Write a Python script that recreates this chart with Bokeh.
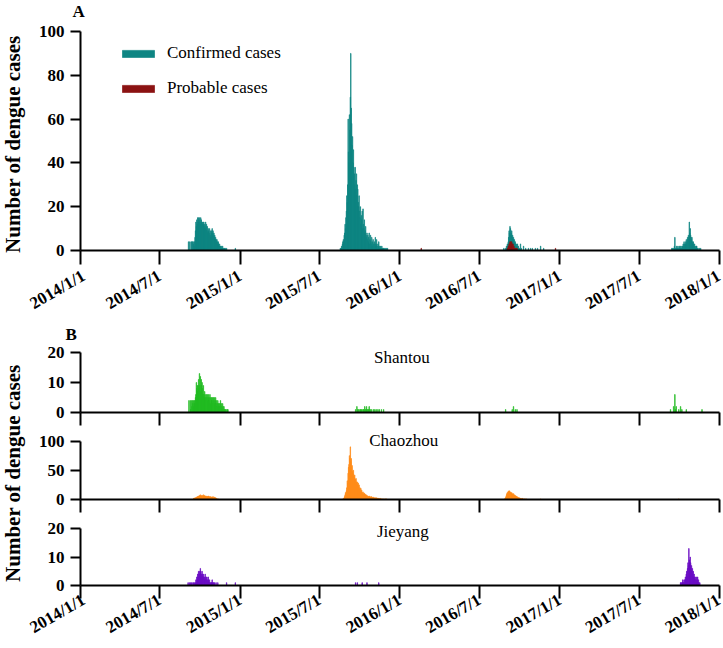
import math
import pandas as pd
from bokeh.plotting import figure
from bokeh.layouts import column, row
from bokeh.models import Range1d, FixedTicker, Label, Legend, LegendItem
from bokeh.embed import file_html
from bokeh.resources import INLINE

# ------------------------------------------------------------------ data
tick_labels = ["2014/1/1", "2014/7/1", "2015/1/1", "2015/7/1", "2016/1/1",
               "2016/7/1", "2017/1/1", "2017/7/1", "2018/1/1"]

# Panel A - confirmed cases (daily counts, consecutive days from start date)
confirmed_2014_start = "2014-09-05"
confirmed_2014 = [4, 0, 0, 4, 0, 0, 4, 0, 4, 4, 0, 3, 4, 2, 4, 6, 9,
                  13, 11, 14, 12, 15, 13, 15, 14, 15, 13, 12, 15, 14, 13, 13, 12, 13,
                  12, 13, 11, 12, 10, 13, 11, 12, 9, 11, 8, 10, 9, 8, 10, 7, 9, 6, 8,
                  9, 10, 8, 9, 7, 8, 6, 7, 5, 6, 5, 4, 5, 4, 3, 4, 3, 2,
                  3, 2, 2, 1, 2, 1, 1, 2, 1, 0, 1, 1, 0, 1, 0, 0, 1]
confirmed_2015_start = "2015-08-18"
confirmed_2015 = [1, 0, 1, 2, 1, 3, 4,
                  5, 4, 7, 8, 12, 10, 15, 18,
                  25, 22, 30, 60, 45, 40, 62, 55, 70,
                  90, 65, 58, 48, 52, 40, 46, 38,
                  35, 30, 38, 28, 32, 35, 25, 30,
                  28, 22, 20, 25, 18, 15, 20, 12, 16, 14, 18, 10,
                  19, 12, 10, 14, 8, 9, 11, 7, 6, 8,
                  5, 7, 4, 6, 8, 3, 5, 7, 4, 3, 6, 2, 4, 5, 3,
                  2, 4, 3, 6, 2, 3, 5, 2, 1, 3, 2, 4, 1, 2, 1,
                  2, 1, 1, 2, 1, 0, 1, 1, 0, 1, 0, 1, 0, 0, 1, 0, 1]
confirmed_2016_start = "2016-08-26"
confirmed_2016 = [1, 0, 0, 0, 1, 0, 2, 1, 3, 2,
                  4, 6, 9, 8, 11, 10, 7, 8, 9, 6,
                  7, 5, 6, 4, 5, 3, 4, 3, 2, 3,
                  2, 3, 1, 2, 1, 0, 1, 0, 3, 0, 1, 0, 0]
confirmed_2017_start = "2017-09-14"
confirmed_2017 = [1, 0, 1, 0, 1, 0, 2, 6, 1, 0, 1,
                  2, 1, 1, 2, 1, 0, 2, 1, 1, 2, 1, 1, 2,
                  1, 2, 3, 2, 4, 3, 2, 3, 4, 5, 3, 4, 6, 5, 7,
                  6, 13, 8, 10, 7, 6, 5, 6, 4, 3, 4, 3,
                  2, 3, 1, 2, 1, 2, 2, 1, 0, 1, 0, 0, 1, 0, 0, 1]
confirmed_single_dates = ["2014-12-21", "2016-10-10", "2016-10-15", "2016-10-21",
                          "2016-10-26", "2016-10-30", "2016-11-06", "2016-11-11",
                          "2016-11-18", "2016-11-25"]
confirmed_single_values = [1, 2, 1, 1, 1, 1, 1, 1, 2, 1]

# Panel A - probable cases
probable_2016_start = "2016-09-03"
probable_2016 = [1, 0, 2, 1, 3, 2, 4, 3, 4, 2, 4, 3, 2, 3, 1, 2, 1, 0, 1, 0, 1, 0, 1]
probable_single_dates = ["2016-02-19", "2016-12-22"]
probable_single_values = [1, 1]

# Panel B - Shantou
shantou_2014_start = "2014-09-06"
shantou_2014 = [4, 0, 0, 4, 1, 0, 4, 2, 4, 3, 4, 2, 4, 3, 4, 5, 6,
                10, 8, 9, 7, 9, 11, 8, 13, 9, 12, 7, 11, 9, 10, 8, 6, 9,
                6, 5, 7, 6, 5, 4, 6, 5, 6, 4, 5, 6, 4, 5, 6, 3, 5, 4, 5,
                4, 5, 3, 5, 4, 5, 3, 4, 5, 3, 4, 2, 3, 4, 3, 2, 3, 2, 3, 4,
                2, 3, 2, 1, 3, 2, 1, 2, 1, 1, 0, 1, 1, 0, 0, 1, 1]
shantou_2015_start = "2015-09-22"
shantou_2015 = [1, 0, 0, 2, 0, 1, 0, 1, 0, 0, 1,
                1, 0, 1, 0, 1, 0, 0, 1, 1, 0, 2, 1,
                0, 1, 2, 1, 0, 1, 1, 0, 2, 1, 0, 1,
                0, 0, 1, 0, 0, 0, 1, 0, 0, 1, 0, 0, 1, 0, 0, 0, 1, 0, 0, 1,
                0, 0, 0, 0, 1, 0, 0, 0, 0, 1]
shantou_2016_start = "2016-08-30"
shantou_2016 = [1, 0, 0, 0, 0, 0, 0, 0, 0, 0, 0, 0, 0, 0, 0, 1,
                0, 0, 2, 0, 0, 0, 1, 0, 0, 0, 1]
shantou_2017_start = "2017-09-11"
shantou_2017 = [1, 0, 0, 0, 0, 0, 0, 2, 0, 0, 6, 1, 0, 2, 0, 0, 0, 0, 0, 1,
                0, 0, 0, 2, 0, 0, 1, 0, 0, 0, 0, 0, 0, 0, 0, 0, 1]
shantou_single_dates = ["2017-11-22"]
shantou_single_values = [1]

# Panel B - Chaozhou
chaozhou_2014_start = "2014-09-16"
chaozhou_2014 = [1, 2, 1, 2, 3, 2, 3, 4, 3, 5, 4, 5, 6,
                 5, 7, 6, 8, 5, 7, 6, 5, 7, 6, 8, 5, 6, 7, 5,
                 6, 5, 4, 6, 5, 4, 5, 6, 4, 5, 3, 4, 5, 3, 4,
                 3, 4, 5, 3, 2, 3, 4, 2, 3, 1, 2, 1, 1, 0, 1]
chaozhou_2015_start = "2015-08-24"
chaozhou_2015 = [1, 0, 2, 3, 5, 8, 12, 10, 15,
                 20, 32, 28, 45, 55, 60, 75, 70, 90,
                 65, 70, 55, 58, 48, 44, 50, 40, 38,
                 42, 35, 32, 36, 30, 27, 30, 25, 28, 22,
                 25, 18, 20, 16, 19, 14, 16, 12, 10, 13,
                 10, 9, 11, 8, 9, 7, 8, 6, 7, 5, 6, 4, 5, 6,
                 4, 5, 3, 4, 5, 3, 4, 2, 3, 4, 2, 3, 2, 3, 2, 2, 3, 1, 2, 2,
                 1, 2, 1, 1, 2, 1, 0, 1, 1, 0, 1, 0, 1, 0, 0, 1, 0, 1, 0, 1]
chaozhou_2016_start = "2016-08-28"
chaozhou_2016 = [1, 2, 3, 5, 8, 10, 12, 11, 14, 13, 15,
                 14, 12, 13, 11, 10, 12, 9, 10, 8, 10,
                 7, 8, 6, 7, 5, 6, 4, 5, 3, 4,
                 3, 2, 3, 2, 2, 1, 2, 1, 1, 2, 1, 1, 0, 1, 1, 0, 1, 0, 0, 1]
chaozhou_single_dates = ["2016-11-18", "2017-09-30"]
chaozhou_single_values = [1, 1]

# Panel B - Jieyang
jieyang_2014_start = "2014-09-04"
jieyang_2014 = [1, 0, 0, 1, 0, 0, 1, 0, 1, 0, 0, 1, 0, 1, 0,
                1, 0, 1, 2, 1, 3, 2, 4, 3, 5, 4, 5, 4, 6,
                5, 4, 3, 5, 4, 3, 4, 3, 2, 3, 4, 2, 3, 2, 3, 2,
                1, 3, 2, 1, 2, 1, 1, 0, 1, 1, 2, 1, 0, 1, 1, 0, 1, 0, 0, 1, 0, 0, 0, 1]
jieyang_2015_start = "2015-09-22"
jieyang_2015 = [1, 0, 0, 0, 1, 0, 0, 0, 0, 0, 0, 0, 0, 0, 0, 1, 0, 0, 0, 0,
                0, 0, 0, 0, 0, 0, 1, 0, 0, 0, 0, 0, 0, 0, 0, 0, 0, 0, 0, 0,
                0, 0, 0, 0, 0, 0, 0, 0, 0, 0, 0, 0, 0, 1]
jieyang_2017_start = "2017-10-04"
jieyang_2017 = [1, 1, 0, 1, 1, 2, 1, 1, 2, 1, 2, 3, 2, 4,
                5, 3, 6, 8, 7, 13, 9, 8, 10, 8,
                6, 7, 5, 6, 4, 5, 3, 4, 3, 2,
                3, 2, 1, 3, 2, 3, 1, 2, 1, 0, 1]
jieyang_single_dates = ["2014-12-01", "2014-12-21"]
jieyang_single_values = [1, 1]

# ------------------------------------------------------------------ helpers
BASE = pd.Timestamp("2014-01-01")


def day(s):
    return (pd.Timestamp(s) - BASE).days


def bars(segments, single_dates=(), single_values=()):
    xs, ys = [], []
    for start, vals in segments:
        d0 = day(start)
        for i, v in enumerate(vals):
            if v:
                xs.append(d0 + i)
                ys.append(v)
    for d, v in zip(single_dates, single_values):
        xs.append(day(d))
        ys.append(v)
    return xs, ys


tick_days = [(pd.to_datetime(t, format="%Y/%m/%d") - BASE).days for t in tick_labels]
X_END = tick_days[-1]

FONT = "Liberation Serif"
TEAL = "#0E8583"
RED = "#8B1212"
GREEN = "#22BB22"
ORANGE = "#FF8C1A"
PURPLE = "#6A0DC4"

PAGE_W = 723
LAB_W = 26
MAIN_W = PAGE_W - LAB_W
LEFT_B = 80 - LAB_W
RIGHT_B = 4


def make_fig(height, ymax_axis, ymax_range, yticks, top_b, bottom_b, show_xlabels,
             xtick_out, standoff=9):
    p = figure(width=MAIN_W, height=height, x_range=Range1d(0, X_END),
               y_range=Range1d(0, ymax_range), toolbar_location=None, output_backend="svg",
               min_border_left=LEFT_B, min_border_right=RIGHT_B, min_border_top=top_b,
               min_border_bottom=bottom_b, title=None)
    p.xgrid.visible = False
    p.ygrid.visible = False
    p.outline_line_color = None
    xa = p.xaxis[0]
    ya = p.yaxis[0]
    xa.ticker = FixedTicker(ticks=tick_days)
    xa.major_tick_out = xtick_out
    xa.major_tick_in = 0
    xa.minor_tick_line_color = None
    xa.axis_line_width = 2
    xa.major_tick_line_width = 2
    xa.axis_line_color = "black"
    xa.major_tick_line_color = "black"
    if show_xlabels:
        xa.major_label_overrides = {d: t for d, t in zip(tick_days, tick_labels)}
        xa.major_label_orientation = math.pi / 6
        xa.major_label_text_font = FONT
        xa.major_label_text_font_style = "bold"
        xa.major_label_text_font_size = "17px"
        xa.major_label_text_color = "black"
        xa.major_label_standoff = standoff
    else:
        xa.major_label_overrides = {d: "" for d in tick_days}
        xa.major_label_text_font_size = "0px"
        xa.major_label_standoff = 0
    ya.ticker = FixedTicker(ticks=yticks)
    ya.bounds = (0, ymax_axis)
    ya.major_tick_out = 10
    ya.major_tick_in = 0
    ya.minor_tick_line_color = None
    ya.axis_line_width = 2
    ya.major_tick_line_width = 2
    ya.axis_line_color = "black"
    ya.major_tick_line_color = "black"
    ya.major_label_text_font = FONT
    ya.major_label_text_font_style = "bold"
    ya.major_label_text_font_size = "17px"
    ya.major_label_text_color = "black"
    ya.major_label_standoff = 6
    return p


def add_bars(p, xs, ys, color):
    return p.vbar(x=xs, top=ys, bottom=0, width=1.0, fill_color=color,
                  line_color=color, line_width=0.7)


def blank_fig(width, height):
    f = figure(width=width, height=height, x_range=Range1d(0, width), y_range=Range1d(0, height),
               x_axis_type=None, y_axis_type=None, toolbar_location=None,
               output_backend="svg", min_border=0, title=None)
    f.outline_line_color = None
    return f


def label_fig(height, yc):
    f = blank_fig(LAB_W, height)
    f.add_layout(Label(x=12.5, y=yc, text="Number of  dengue cases", angle=math.pi / 2,
                       text_align="center", text_baseline="middle", text_font=FONT,
                       text_font_style="bold", text_font_size="21px", text_color="black"))
    return f


def header_fig(height, x, y, text):
    f = blank_fig(PAGE_W, height)
    f.add_layout(Label(x=x, y=y, text=text, text_align="left", text_baseline="middle",
                       text_font=FONT, text_font_style="bold", text_font_size="17px",
                       text_color="black"))
    return f


def city_label(p, x, y, text):
    p.add_layout(Label(x=x, y=y, text=text, text_align="center", text_baseline="top",
                       text_font=FONT, text_font_size="17px", text_color="black"))


# ------------------------------------------------------------------ panel A
hdrA = header_fig(21, 72, 10.5, "A")
pA = make_fig(303, 100, 100, [0, 20, 40, 60, 80, 100], 10, 72, True, 14, standoff=10)
cx, cy = bars([(confirmed_2014_start, confirmed_2014), (confirmed_2015_start, confirmed_2015),
               (confirmed_2016_start, confirmed_2016), (confirmed_2017_start, confirmed_2017)],
              confirmed_single_dates, confirmed_single_values)
px, py = bars([(probable_2016_start, probable_2016)], probable_single_dates, probable_single_values)
r_conf = add_bars(pA, cx, cy, TEAL)
r_prob = add_bars(pA, px, py, RED)
legend = Legend(items=[LegendItem(label="Confirmed cases", renderers=[r_conf]),
                       LegendItem(label="Probable cases", renderers=[r_prob])],
                location=(38, 152), orientation="vertical", glyph_width=40, glyph_height=9,
                label_standoff=9, spacing=15, padding=0, margin=0, label_height=20,
                border_line_color=None, background_fill_alpha=0,
                label_text_font=FONT, label_text_font_size="17px", label_text_color="black")
pA.add_layout(legend)
labA = label_fig(303, 183)

# ------------------------------------------------------------------ panel B
hdrB = header_fig(20, 65, 10, "B")

pS = make_fig(83, 20, 21.67, [0, 10, 20], 3, 15, False, 13)
sx, sy = bars([(shantou_2014_start, shantou_2014), (shantou_2015_start, shantou_2015),
               (shantou_2016_start, shantou_2016), (shantou_2017_start, shantou_2017)],
              shantou_single_dates, shantou_single_values)
add_bars(pS, sx, sy, GREEN)
city_label(pS, 735, 21.67, "Shantou")

pC = make_fig(87, 100, 118, [0, 50, 100], 3, 15, False, 13)
chx, chy = bars([(chaozhou_2014_start, chaozhou_2014), (chaozhou_2015_start, chaozhou_2015),
                 (chaozhou_2016_start, chaozhou_2016)],
                chaozhou_single_dates, chaozhou_single_values)
add_bars(pC, chx, chy, ORANGE)
city_label(pC, 739, 118, "Chaozhou")

pJ = make_fig(134, 20, 22.5, [0, 10, 20], 7, 61, True, 13, standoff=0)
jx, jy = bars([(jieyang_2014_start, jieyang_2014), (jieyang_2015_start, jieyang_2015),
               (jieyang_2017_start, jieyang_2017)],
              jieyang_single_dates, jieyang_single_values)
add_bars(pJ, jx, jy, PURPLE)
city_label(pJ, 737, 22.5, "Jieyang")

labB = label_fig(304, 178)

layout = column(hdrA,
                row(labA, column(pA)),
                hdrB,
                row(labB, column(pS, pC, pJ)))

open("out.html", "w").write(file_html(layout, INLINE))
